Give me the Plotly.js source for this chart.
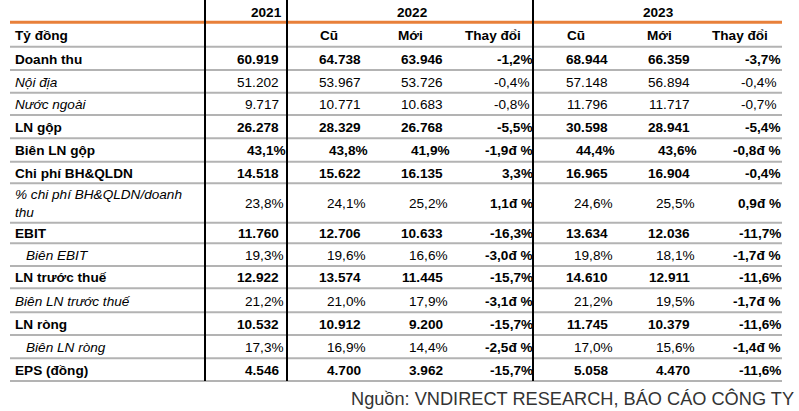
<!DOCTYPE html>
<html><head><meta charset="utf-8">
<script src="https://cdn.plot.ly/plotly-3.0.1.min.js"></script>
<style>html,body{margin:0;padding:0;background:#fff}</style>
</head><body><div id="chart" style="width:799px;height:411px"></div>
<script>
// ---------- DATA ----------
const years = ["2021", "2022", "2023"];
const subHeaders = ["Cũ", "Mới", "Thay đổi", "Cũ", "Mới", "Thay đổi"];
const unitLabel = "Tỷ đồng";
const labels = ["Doanh thu","Nội địa","Nước ngoài","LN gộp","Biên LN gộp","Chi phí BH&QLDN",
  "% chi phí BH&QLDN/doanh<br>thu","EBIT","Biên EBIT","LN trước thuế","Biên LN trước thuế","LN ròng","Biên LN ròng","EPS (đồng)"];
const v2021   = ["60.919","51.202","9.717","26.278","43,1%","14.518","23,8%","11.760","19,3%","12.922","21,2%","10.532","17,3%","4.546"];
const old2022 = ["64.738","53.967","10.771","28.329","43,8%","15.622","24,1%","12.706","19,6%","13.574","21,0%","10.912","16,9%","4.700"];
const new2022 = ["63.946","53.726","10.683","26.768","41,9%","16.135","25,2%","10.633","16,6%","11.445","17,9%","9.200","14,4%","3.962"];
const chg2022 = ["-1,2%","-0,4%","-0,8%","-5,5%","-1,9đ %","3,3%","1,1đ %","-16,3%","-3,0đ %","-15,7%","-3,1đ %","-15,7%","-2,5đ %","-15,7%"];
const old2023 = ["68.944","57.148","11.796","30.598","44,4%","16.965","24,6%","13.634","19,8%","14.610","21,2%","11.745","17,0%","5.058"];
const new2023 = ["66.359","56.894","11.717","28.941","43,6%","16.904","25,5%","12.036","18,1%","12.911","19,5%","10.379","15,6%","4.470"];
const chg2023 = ["-3,7%","-0,4%","-0,7%","-5,4%","-0,8đ %","-0,4%","0,9đ %","-11,7%","-1,7đ %","-11,6%","-1,7đ %","-11,6%","-1,4đ %","-11,6%"];
const source = "Nguồn: VNDIRECT RESEARCH, BÁO CÁO CÔNG TY";

// ---------- STYLE / GEOMETRY ----------
const FONT = "Liberation Sans, Arial, sans-serif";
const FS = 13.6;
const rowBold = [1,0,0,1,1,1,0,1,0,1,0,1,0,1];
const chgBold = [1,0,0,1,1,1,1,1,1,1,1,1,1,1];
const indent  = [0,0,0,0,0,0,0,0,1,0,0,0,1,0];
const isPct   = [0,0,0,0,1,0,1,0,1,0,1,0,1,0];
const bounds = [22.3,46.7,70,92.7,115,138.3,161.7,183.3,222.7,243.3,266,288.3,312.3,335,358.3,381];
const numAnchor = [279, 361, 443, 608, 690];
const chgAnchor = [{b:532.5, r:530}, {b:781, r:777}];

const ann = [];
function A(text, x, y, xanchor, opts) {
  opts = opts || {};
  ann.push({text: text, x: x, y: y, xref: 'x', yref: 'y', xanchor: xanchor, yanchor: 'middle',
    showarrow: false, borderpad: 0, borderwidth: 0, align: opts.align || 'left',
    font: {family: FONT, size: opts.size || FS, color: opts.color || '#000',
           weight: opts.bold ? 'bold' : 'normal', style: opts.italic ? 'italic' : 'normal'}});
}
// header rows
A(years[0], 282, 12, 'right', {bold: true});
A(years[1], 412, 12, 'center', {bold: true});
A(years[2], 658, 12, 'center', {bold: true});
const yHead = (bounds[0] + bounds[1]) / 2 + 0.8;
A(unitLabel, 15, yHead, 'left', {bold: true});
const subLeft = [320, 398, 465, 567, 647, 712];
subHeaders.forEach((t, i) => A(t, subLeft[i], yHead, 'left', {bold: true}));

const numCols = [v2021, old2022, new2022, old2023, new2023];
const chgCols = [chg2022, chg2023];
labels.forEach((lab, r) => {
  const yc = (bounds[r + 1] + bounds[r + 2]) / 2 + 0.8;
  const b = !!rowBold[r];
  A(lab, indent[r] ? 26 : 15, yc, 'left', {bold: b, italic: !b});
  numCols.forEach((col, c) => {
    const x = numAnchor[c] + (isPct[r] ? (b ? 6.5 : 4.5) : 0);
    A(col[r], x, yc, 'right', {bold: b});
  });
  chgCols.forEach((col, c) => {
    const cb = !!chgBold[r];
    A(col[r], cb ? chgAnchor[c].b : chgAnchor[c].r, yc, 'right', {bold: cb});
  });
});
A(source, 794, 398, 'right', {size: 18.2, color: '#333333'});

// lines
const shapes = [];
const L = (x0, y0, x1, y1, color, w) => shapes.push({type: 'line', xref: 'x', yref: 'y', x0, y0, x1, y1,
  line: {color: color, width: w}, layer: 'below'});
for (let i = 1; i < bounds.length; i++) L(10, bounds[i], 782, bounds[i], '#b3b3b3', 2);
L(10, bounds[0], 782, bounds[0], '#e8803a', 3);
[205, 287, 533].forEach(x => L(x, 0, x, bounds[bounds.length - 1], '#000000', 2));

Plotly.newPlot('chart', [], {
  width: 799, height: 411, margin: {l: 0, r: 0, t: 0, b: 0},
  paper_bgcolor: '#fff', plot_bgcolor: '#fff',
  xaxis: {range: [0, 799], visible: false, fixedrange: true},
  yaxis: {range: [411, 0], visible: false, fixedrange: true},
  showlegend: false, annotations: ann, shapes: shapes
}, {staticPlot: true});
</script></body></html>
